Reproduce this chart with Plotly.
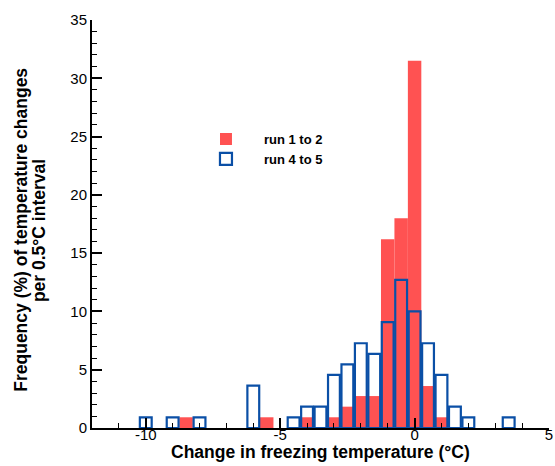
import plotly.graph_objects as go

# Bin centres (0.5 °C bins) and frequencies (%)
red_x = [-8.5, -5.5, -4.0, -3.0, -2.5, -2.0, -1.5, -1.0, -0.5, 0.0, 0.5, 1.0]
red_y = [0.92, 0.92, 0.92, 0.92, 1.83, 2.74, 2.74, 16.2, 18.0, 31.5, 3.6, 0.92]

blue_x = [-10.0, -9.0, -8.0, -6.0, -4.5, -4.0, -3.5, -3.0, -2.5, -2.0, -1.5,
          -1.0, -0.5, 0.0, 0.5, 1.0, 1.5, 2.0, 3.5]
blue_y = [0.92, 0.92, 0.92, 3.64, 0.92, 1.83, 1.83, 4.55, 5.45, 7.27, 6.36,
          9.09, 12.7, 10.0, 7.27, 4.55, 1.83, 0.92, 0.92]

x_tickvals = [-10, -5, 0, 5]
x_ticktext = ["-10", "-5", "0", "5"]

FONT = "Liberation Sans, Arial, sans-serif"
RED = "#ff5252"
BLUE = "#0a4fa6"
TITLE_SIZE = 17.5

fig = go.Figure()
fig.add_trace(go.Bar(
    x=red_x, y=red_y, width=0.5, name="run 1 to 2",
    marker=dict(color=RED, line=dict(width=0)),
))
fig.add_trace(go.Bar(
    x=blue_x, y=blue_y, width=0.44, name="run 4 to 5",
    marker=dict(color="rgba(0,0,0,0)", line=dict(color=BLUE, width=2.2)),
))

fig.update_layout(
    width=555, height=466,
    margin=dict(l=92, r=2, t=20, b=38),
    paper_bgcolor="white", plot_bgcolor="white",
    barmode="overlay",
    font=dict(family=FONT, size=15, color="black"),
    showlegend=True,
    legend=dict(
        x=0.21, y=0.745, xanchor="left", yanchor="top",
        bgcolor="rgba(0,0,0,0)", borderwidth=0,
        itemwidth=66,
        font=dict(family=FONT, size=13, color="black", weight="bold"),
    ),
    xaxis=dict(
        range=[-12, 5], showgrid=False, zeroline=False,
        showline=True, linecolor="black", linewidth=2,
        tickmode="array", tickvals=x_tickvals, ticktext=x_ticktext,
        ticks="inside", ticklen=10, tickwidth=2, tickcolor="black",
        ticklabelstandoff=-8, ticklabeloverflow="allow",
        minor=dict(ticks="inside", ticklen=5, tickwidth=1, tickcolor="black",
                   tickmode="linear", tick0=0, dtick=1),
        tickfont=dict(family=FONT, size=15, color="black"),
    ),
    yaxis=dict(
        range=[0, 35], showgrid=False, zeroline=False,
        showline=True, linecolor="black", linewidth=2,
        tickmode="linear", tick0=0, dtick=5,
        ticks="inside", ticklen=10, tickwidth=2, tickcolor="black",
        minor=dict(ticks="inside", ticklen=5, tickwidth=1, tickcolor="black",
                   dtick=1),
        tickfont=dict(family=FONT, size=15, color="black"),
    ),
    annotations=[
        dict(text="Change in freezing temperature (°C)", xref="paper", yref="paper",
             x=0.5, y=(428 - 451.5) / 408, xanchor="center", yanchor="middle",
             showarrow=False,
             font=dict(family=FONT, size=TITLE_SIZE, color="black", weight="bold")),
        dict(text="Frequency (%) of temperature changes", xref="paper", yref="paper",
             x=(21 - 92) / 461, y=0.485, xanchor="center", yanchor="middle",
             textangle=-90, showarrow=False,
             font=dict(family=FONT, size=TITLE_SIZE, color="black", weight="bold")),
        dict(text="per 0.5°C interval", xref="paper", yref="paper",
             x=(38.5 - 92) / 461, y=0.485, xanchor="center", yanchor="middle",
             textangle=-90, showarrow=False,
             font=dict(family=FONT, size=TITLE_SIZE, color="black", weight="bold")),
    ],
)

fig.write_html("out.html")
